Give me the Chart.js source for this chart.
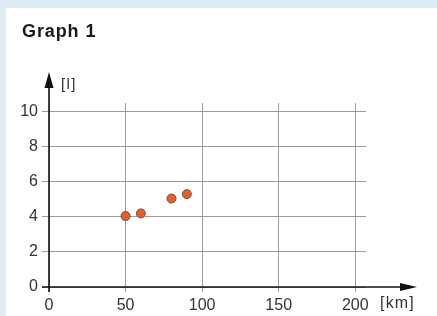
<!DOCTYPE html>
<html>
<head>
<meta charset="utf-8">
<script src="https://cdn.jsdelivr.net/npm/chart.js@4/dist/chart.umd.min.js"></script>
<style>
  html, body { margin:0; padding:0; width:437px; height:316px; overflow:hidden; background:#dcebf4; }
  #panel { position:absolute; left:6px; top:8px; right:0; bottom:0; background:#ffffff; }
  #wrap { position:absolute; left:0; top:0; width:437px; height:316px; }
  .txt { position:absolute; font-family:"Liberation Sans", Arial, sans-serif; color:#222; white-space:nowrap; line-height:1; }
  #title { left:22px; top:22px; font-size:18px; font-weight:bold; color:#1a1a1a; letter-spacing:0.9px; }
  #unitY { left:61px; top:76px; font-size:15px; color:#333; letter-spacing:1.4px; }
  #unitX { left:380px; top:295px; font-size:16px; color:#333; letter-spacing:1.2px; }
</style>
</head>
<body>
<div id="panel"></div>
<div id="wrap"><canvas id="c" width="437" height="316"></canvas></div>
<div class="txt" id="title">Graph 1</div>
<div class="txt" id="unitY">[l]</div>
<div class="txt" id="unitX">[km]</div>
<script>
// Data
const distanceKm = [50, 60, 80, 90];
const litres = [4.05, 4.2, 5.05, 5.3];
const xTickValues = [0, 50, 100, 150, 200];
const yTickValues = [0, 2, 4, 6, 8, 10];

const points = distanceKm.map((x, i) => ({ x: x, y: litres[i] }));

const axisArrows = {
  id: 'axisArrows',
  afterDraw(chart) {
    const ctx = chart.ctx;
    const xs = chart.scales.x, ys = chart.scales.y;
    const x0 = xs.getPixelForValue(0);
    const y0 = ys.getPixelForValue(0);
    ctx.save();
    ctx.strokeStyle = '#111';
    ctx.fillStyle = '#111';
    ctx.lineWidth = 1.6;
    // y axis
    ctx.beginPath();
    ctx.moveTo(x0, y0 + 5);
    ctx.lineTo(x0, 86);
    ctx.stroke();
    ctx.beginPath();
    ctx.moveTo(x0, 72);
    ctx.lineTo(x0 - 4.5, 88);
    ctx.lineTo(x0 + 4.5, 88);
    ctx.closePath();
    ctx.fill();
    // x axis
    ctx.beginPath();
    ctx.moveTo(x0 - 7, y0);
    ctx.lineTo(402, y0);
    ctx.stroke();
    ctx.beginPath();
    ctx.moveTo(417, y0);
    ctx.lineTo(400, y0 - 4);
    ctx.lineTo(400, y0 + 4);
    ctx.closePath();
    ctx.fill();
    ctx.restore();
  }
};

const tickFont = { family: '"Liberation Sans", Arial, sans-serif', size: 16 };

new Chart(document.getElementById('c'), {
  type: 'scatter',
  data: {
    datasets: [{
      data: points,
      backgroundColor: '#f15a22',
      borderColor: '#555555',
      borderWidth: 1,
      pointRadius: 4.5,
      pointHoverRadius: 4.5
    }]
  },
  options: {
    responsive: false,
    animation: false,
    events: [],
    layout: { padding: { left: 0, top: 103, right: 71, bottom: 0 } },
    plugins: { legend: { display: false }, tooltip: { enabled: false }, title: { display: false } },
    scales: {
      x: {
        type: 'linear',
        min: 0,
        max: 207,
        afterBuildTicks: s => { s.ticks = xTickValues.map(v => ({ value: v })); },
        afterFit: s => { s.height = 29; },
        border: { display: false },
        grid: { color: '#9c9c9c', lineWidth: 1, tickLength: 5, drawTicks: true },
        ticks: { font: tickFont, color: '#333', padding: 4, maxRotation: 0 }
      },
      y: {
        type: 'linear',
        min: 0,
        max: 10.5,
        afterBuildTicks: s => { s.ticks = yTickValues.map(v => ({ value: v })); },
        afterFit: s => { s.width = 49; },
        border: { display: false },
        grid: { color: '#9c9c9c', lineWidth: 1, tickLength: 7, drawTicks: true },
        ticks: { font: tickFont, color: '#333', padding: 4 }
      }
    }
  },
  plugins: [axisArrows]
});
</script>
</body>
</html>
